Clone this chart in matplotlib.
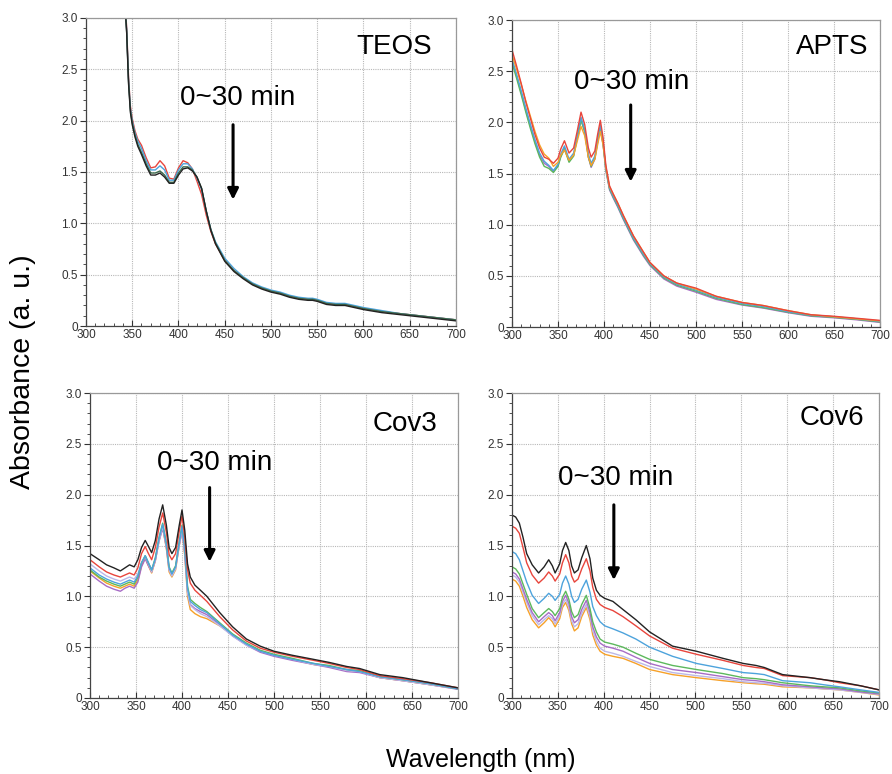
import numpy as np
import matplotlib
matplotlib.use("Agg")
import matplotlib.pyplot as plt
from matplotlib.ticker import MultipleLocator, FuncFormatter

plt.rcParams['font.family'] = ['Liberation Sans', 'DejaVu Sans']

# ---------------- data ----------------
# TEOS
teos_wl = [341, 344, 346, 348, 350, 353, 356, 360, 365, 370, 375, 380, 385, 390, 395,
           400, 405, 410, 415, 420, 425, 430, 435, 440, 450, 460, 470, 480, 490, 500,
           510, 520, 530, 540, 545, 550, 560, 570, 580, 590, 600, 620, 640, 660, 680, 700]
teos_red = [3.35, 2.90, 2.42, 2.14, 2.02, 1.90, 1.82, 1.76, 1.64, 1.54, 1.55, 1.61, 1.56, 1.44, 1.43,
            1.54, 1.61, 1.59, 1.53, 1.41, 1.28, 1.08, 0.92, 0.80, 0.64, 0.54, 0.47, 0.41, 0.37, 0.34,
            0.32, 0.29, 0.27, 0.26, 0.26, 0.25, 0.22, 0.21, 0.21, 0.19, 0.17, 0.14, 0.12, 0.10, 0.08, 0.06]
teos_blue = [3.34, 2.88, 2.40, 2.12, 2.00, 1.88, 1.80, 1.73, 1.61, 1.52, 1.52, 1.56, 1.52, 1.42, 1.42,
             1.52, 1.58, 1.58, 1.53, 1.44, 1.33, 1.12, 0.94, 0.82, 0.66, 0.56, 0.48, 0.42, 0.38, 0.35,
             0.33, 0.30, 0.28, 0.27, 0.27, 0.26, 0.23, 0.22, 0.22, 0.20, 0.18, 0.15, 0.12, 0.10, 0.08, 0.06]
teos_green = [3.32, 2.86, 2.38, 2.10, 1.98, 1.86, 1.77, 1.69, 1.58, 1.49, 1.49, 1.51, 1.47, 1.40, 1.40,
              1.49, 1.55, 1.55, 1.52, 1.45, 1.34, 1.12, 0.94, 0.81, 0.64, 0.54, 0.47, 0.41, 0.37, 0.34,
              0.32, 0.29, 0.27, 0.26, 0.26, 0.25, 0.22, 0.21, 0.21, 0.19, 0.17, 0.14, 0.12, 0.10, 0.08, 0.06]
teos_black = [3.30, 2.85, 2.36, 2.08, 1.96, 1.84, 1.75, 1.67, 1.56, 1.47, 1.47, 1.49, 1.45, 1.39, 1.39,
              1.47, 1.53, 1.54, 1.51, 1.45, 1.34, 1.12, 0.93, 0.80, 0.63, 0.53, 0.46, 0.40, 0.36, 0.33,
              0.31, 0.28, 0.26, 0.25, 0.25, 0.24, 0.21, 0.20, 0.20, 0.18, 0.16, 0.13, 0.11, 0.09, 0.07, 0.05]

# APTS
apts_wl = [300, 305, 310, 315, 320, 325, 330, 335, 340, 345, 350, 353, 357, 362, 367,
           371, 375, 379, 383, 386, 390, 393, 396, 399, 402, 406, 410, 415, 421, 432,
           443, 450, 465, 479, 500, 522, 550, 573, 600, 625, 650, 675, 700]
apts_purple = [2.60, 2.45, 2.29, 2.12, 1.96, 1.81, 1.68, 1.60, 1.57, 1.52, 1.58, 1.67, 1.75, 1.62, 1.68,
               1.86, 2.03, 1.91, 1.66, 1.56, 1.64, 1.80, 1.94, 1.78, 1.53, 1.34, 1.26, 1.17, 1.05, 0.85,
               0.69, 0.60, 0.47, 0.40, 0.34, 0.27, 0.215, 0.185, 0.14, 0.105, 0.09, 0.07, 0.045]
apts_green = [2.58, 2.43, 2.27, 2.10, 1.94, 1.79, 1.66, 1.57, 1.55, 1.51, 1.57, 1.66, 1.74, 1.61, 1.67,
              1.85, 2.02, 1.91, 1.66, 1.57, 1.65, 1.81, 1.95, 1.79, 1.54, 1.35, 1.27, 1.18, 1.06, 0.86,
              0.70, 0.61, 0.48, 0.41, 0.35, 0.28, 0.22, 0.19, 0.145, 0.11, 0.095, 0.075, 0.05]
apts_blue = [2.62, 2.47, 2.31, 2.14, 1.98, 1.83, 1.70, 1.62, 1.58, 1.53, 1.59, 1.69, 1.77, 1.64, 1.70,
             1.87, 2.05, 1.93, 1.69, 1.60, 1.67, 1.83, 1.97, 1.81, 1.55, 1.36, 1.28, 1.19, 1.07, 0.87,
             0.71, 0.62, 0.49, 0.42, 0.36, 0.29, 0.23, 0.20, 0.15, 0.115, 0.10, 0.08, 0.055]
apts_orange = [2.66, 2.52, 2.37, 2.21, 2.06, 1.91, 1.78, 1.69, 1.65, 1.57, 1.61, 1.68, 1.73, 1.63, 1.68,
               1.82, 1.96, 1.87, 1.66, 1.58, 1.64, 1.78, 1.91, 1.78, 1.56, 1.37, 1.30, 1.21, 1.09, 0.89,
               0.73, 0.63, 0.50, 0.43, 0.37, 0.30, 0.24, 0.21, 0.16, 0.12, 0.10, 0.08, 0.06]
apts_red = [2.71, 2.55, 2.38, 2.20, 2.04, 1.88, 1.75, 1.66, 1.64, 1.60, 1.65, 1.74, 1.82, 1.70, 1.75,
            1.92, 2.10, 1.98, 1.75, 1.66, 1.72, 1.88, 2.02, 1.85, 1.58, 1.38, 1.30, 1.21, 1.09, 0.89,
            0.73, 0.63, 0.50, 0.43, 0.38, 0.30, 0.24, 0.21, 0.16, 0.12, 0.105, 0.085, 0.065]

# Cov3
cov3_wl = [300, 310, 318, 326, 333, 338, 343, 348, 352, 356, 360, 363, 367, 371, 375,
           379, 383, 386, 389, 393, 397, 400, 403, 406, 409, 414, 420, 427, 441, 455,
           470, 485, 500, 520, 543, 560, 579, 593, 615, 640, 670, 700]
cov3_orange = [1.25, 1.18, 1.13, 1.10, 1.08, 1.10, 1.12, 1.10, 1.16, 1.30, 1.38, 1.31, 1.23, 1.35, 1.55,
               1.68, 1.47, 1.24, 1.19, 1.26, 1.50, 1.65, 1.40, 1.00, 0.87, 0.83, 0.80, 0.78, 0.71, 0.62,
               0.53, 0.46, 0.42, 0.38, 0.33, 0.31, 0.27, 0.26, 0.20, 0.17, 0.13, 0.09]
cov3_purple = [1.22, 1.15, 1.10, 1.07, 1.05, 1.08, 1.10, 1.08, 1.14, 1.29, 1.37, 1.31, 1.24, 1.35, 1.54,
               1.67, 1.48, 1.26, 1.21, 1.28, 1.50, 1.64, 1.42, 1.04, 0.92, 0.88, 0.85, 0.82, 0.72, 0.61,
               0.52, 0.45, 0.41, 0.37, 0.33, 0.30, 0.26, 0.25, 0.20, 0.17, 0.13, 0.085]
cov3_lavender = [1.32, 1.25, 1.20, 1.17, 1.15, 1.17, 1.19, 1.17, 1.22, 1.33, 1.39, 1.33, 1.24, 1.36, 1.55,
                 1.69, 1.49, 1.26, 1.20, 1.27, 1.51, 1.66, 1.43, 1.04, 0.91, 0.87, 0.83, 0.80, 0.71, 0.61,
                 0.52, 0.46, 0.42, 0.38, 0.33, 0.31, 0.27, 0.26, 0.20, 0.17, 0.13, 0.09]
cov3_green = [1.26, 1.19, 1.15, 1.12, 1.10, 1.12, 1.14, 1.12, 1.19, 1.33, 1.40, 1.34, 1.26, 1.38, 1.58,
              1.72, 1.52, 1.29, 1.23, 1.30, 1.54, 1.70, 1.48, 1.10, 0.97, 0.93, 0.89, 0.85, 0.74, 0.63,
              0.54, 0.47, 0.43, 0.39, 0.34, 0.32, 0.28, 0.27, 0.21, 0.18, 0.14, 0.09]
cov3_blue = [1.28, 1.21, 1.17, 1.14, 1.12, 1.14, 1.16, 1.14, 1.20, 1.33, 1.40, 1.34, 1.26, 1.37, 1.57,
             1.71, 1.51, 1.28, 1.22, 1.29, 1.53, 1.69, 1.46, 1.08, 0.95, 0.91, 0.87, 0.84, 0.73, 0.62,
             0.53, 0.46, 0.42, 0.38, 0.34, 0.31, 0.28, 0.26, 0.21, 0.18, 0.14, 0.09]
cov3_red = [1.36, 1.29, 1.24, 1.21, 1.19, 1.21, 1.23, 1.21, 1.28, 1.42, 1.49, 1.43, 1.36, 1.48, 1.68,
            1.82, 1.63, 1.41, 1.36, 1.42, 1.64, 1.79, 1.58, 1.26, 1.13, 1.06, 1.01, 0.95, 0.80, 0.67,
            0.56, 0.49, 0.45, 0.41, 0.37, 0.34, 0.30, 0.28, 0.22, 0.19, 0.15, 0.10]
cov3_black = [1.42, 1.36, 1.31, 1.28, 1.25, 1.28, 1.31, 1.29, 1.36, 1.48, 1.55, 1.50, 1.43, 1.55, 1.76,
              1.90, 1.70, 1.48, 1.42, 1.48, 1.70, 1.85, 1.65, 1.32, 1.19, 1.11, 1.06, 1.00, 0.84, 0.70,
              0.58, 0.51, 0.46, 0.42, 0.38, 0.35, 0.31, 0.29, 0.23, 0.20, 0.15, 0.10]

# Cov6
cov6_wl = [300, 304, 308, 312, 316, 322, 329, 335, 340, 344, 347, 352, 355, 358.5, 362,
           365, 368, 372, 376, 381, 385, 388, 392, 396, 401, 410, 421, 435, 450, 475,
           501, 530, 552, 566, 575, 595, 625, 640, 657, 680, 700]
cov6_orange = [1.17, 1.15, 1.10, 1.00, 0.89, 0.77, 0.69, 0.74, 0.79, 0.75, 0.70, 0.78, 0.89, 0.94, 0.86,
               0.73, 0.66, 0.69, 0.80, 0.89, 0.77, 0.62, 0.52, 0.46, 0.43, 0.41, 0.39, 0.34, 0.28, 0.23,
               0.20, 0.17, 0.15, 0.14, 0.135, 0.11, 0.10, 0.09, 0.08, 0.055, 0.03]
cov6_lavender = [1.21, 1.19, 1.14, 1.04, 0.94, 0.81, 0.72, 0.77, 0.81, 0.78, 0.73, 0.81, 0.92, 0.97, 0.89,
                 0.76, 0.70, 0.73, 0.83, 0.92, 0.80, 0.66, 0.56, 0.49, 0.46, 0.44, 0.41, 0.36, 0.31, 0.25,
                 0.22, 0.19, 0.16, 0.15, 0.145, 0.12, 0.10, 0.09, 0.08, 0.055, 0.035]
cov6_purple = [1.24, 1.22, 1.17, 1.07, 0.97, 0.84, 0.75, 0.80, 0.84, 0.81, 0.76, 0.84, 0.95, 1.01, 0.93,
               0.80, 0.74, 0.77, 0.87, 0.96, 0.84, 0.70, 0.60, 0.54, 0.51, 0.49, 0.46, 0.40, 0.34, 0.28,
               0.25, 0.21, 0.18, 0.17, 0.16, 0.13, 0.11, 0.10, 0.09, 0.06, 0.04]
cov6_green = [1.29, 1.27, 1.22, 1.12, 1.02, 0.88, 0.79, 0.84, 0.88, 0.85, 0.81, 0.88, 0.99, 1.05, 0.97,
              0.85, 0.79, 0.82, 0.92, 1.01, 0.88, 0.75, 0.65, 0.58, 0.55, 0.53, 0.50, 0.44, 0.38, 0.32,
              0.28, 0.24, 0.20, 0.19, 0.18, 0.15, 0.12, 0.11, 0.10, 0.07, 0.05]
cov6_blue = [1.44, 1.42, 1.36, 1.25, 1.14, 1.01, 0.93, 0.98, 1.03, 1.00, 0.96, 1.02, 1.13, 1.20, 1.12,
             1.00, 0.94, 0.97, 1.07, 1.16, 1.04, 0.90, 0.81, 0.75, 0.71, 0.68, 0.64, 0.58, 0.50, 0.41,
             0.34, 0.29, 0.25, 0.24, 0.23, 0.17, 0.15, 0.13, 0.11, 0.08, 0.055]
cov6_red = [1.69, 1.67, 1.62, 1.48, 1.33, 1.21, 1.13, 1.18, 1.24, 1.20, 1.15, 1.22, 1.33, 1.41, 1.33,
            1.20, 1.14, 1.17, 1.27, 1.37, 1.25, 1.09, 0.97, 0.92, 0.89, 0.86, 0.80, 0.71, 0.61, 0.49,
            0.43, 0.37, 0.32, 0.30, 0.29, 0.22, 0.20, 0.18, 0.15, 0.12, 0.08]
cov6_black = [1.80, 1.78, 1.72, 1.58, 1.42, 1.31, 1.23, 1.29, 1.36, 1.30, 1.23, 1.32, 1.45, 1.53, 1.45,
              1.30, 1.23, 1.26, 1.38, 1.50, 1.37, 1.18, 1.06, 1.01, 0.98, 0.95, 0.87, 0.77, 0.65, 0.51,
              0.46, 0.39, 0.34, 0.32, 0.30, 0.23, 0.20, 0.18, 0.16, 0.12, 0.08]

panel_names = ["TEOS", "APTS", "Cov3", "Cov6"]

# colours
BLACK = '#222222'
RED = '#e8453c'
BLUE = '#4da3dc'
GREEN = '#5cb85c'
DKGREEN = '#3d6b4c'
PURPLE = '#a76cc6'
LAVENDER = '#bcb8e8'
ORANGE = '#f6a129'


def style_axis(ax):
    ax.set_xlim(300, 700)
    ax.set_ylim(0, 3.0)
    ax.xaxis.set_major_locator(MultipleLocator(50))
    ax.xaxis.set_minor_locator(MultipleLocator(10))
    ax.yaxis.set_major_locator(MultipleLocator(0.5))
    ax.yaxis.set_minor_locator(MultipleLocator(0.1))
    ax.yaxis.set_major_formatter(FuncFormatter(lambda v, p: "0" if v == 0 else "%.1f" % v))
    ax.grid(True, which='major', color='#b8b8b8', linestyle=(0, (1, 1)), linewidth=0.8)
    ax.tick_params(axis='x', which='both', direction='in', colors='#333333', labelsize=8.5, pad=2)
    ax.tick_params(axis='x', which='major', length=4)
    ax.tick_params(axis='x', which='minor', length=2.5)
    ax.tick_params(axis='y', which='both', direction='out', colors='#333333', labelsize=8.5, pad=2)
    ax.tick_params(axis='y', which='major', length=4)
    ax.tick_params(axis='y', which='minor', length=2.5)
    ax.spines['left'].set_color('#444444')
    ax.spines['bottom'].set_color('#444444')
    ax.spines['top'].set_color('#999999')
    ax.spines['right'].set_color('#999999')
    for s in ax.spines.values():
        s.set_linewidth(0.9)


def annotate(ax, name, name_x, name_y, txt_x, txt_y, arr_x, arr_top, arr_tip):
    ax.text(name_x, name_y, name, fontsize=20, ha='right', va='center')
    ax.text(txt_x, txt_y, "0~30 min", fontsize=20, ha='left', va='center')
    ax.annotate('', xy=(arr_x, arr_tip), xytext=(arr_x, arr_top),
                arrowprops=dict(arrowstyle='-|>', color='black', lw=2.2,
                                mutation_scale=16, shrinkA=0, shrinkB=0))


fig = plt.figure(figsize=(8.92, 7.74), dpi=100)
ax1 = fig.add_axes([0.0964, 0.5788, 0.4148, 0.398])
ax2 = fig.add_axes([0.574, 0.5775, 0.4126, 0.3966])
ax3 = fig.add_axes([0.1009, 0.0982, 0.4126, 0.394])
ax4 = fig.add_axes([0.574, 0.0982, 0.4114, 0.394])

lw = 1.0

# TEOS
for vals, c in [(teos_red, RED), (teos_blue, BLUE), (teos_green, DKGREEN), (teos_black, BLACK)]:
    ax1.plot(teos_wl, vals, color=c, lw=lw)
# APTS
for vals, c in [(apts_purple, PURPLE), (apts_green, GREEN), (apts_blue, BLUE),
                (apts_orange, ORANGE), (apts_red, RED)]:
    ax2.plot(apts_wl, vals, color=c, lw=lw)
# Cov3
for vals, c in [(cov3_orange, ORANGE), (cov3_purple, PURPLE), (cov3_lavender, LAVENDER),
                (cov3_green, GREEN), (cov3_blue, BLUE), (cov3_red, RED), (cov3_black, BLACK)]:
    ax3.plot(cov3_wl, vals, color=c, lw=lw)
# Cov6
for vals, c in [(cov6_orange, ORANGE), (cov6_lavender, LAVENDER), (cov6_purple, PURPLE),
                (cov6_green, GREEN), (cov6_blue, BLUE), (cov6_red, RED), (cov6_black, BLACK)]:
    ax4.plot(cov6_wl, vals, color=c, lw=lw)

for ax in [ax1, ax2, ax3, ax4]:
    style_axis(ax)

annotate(ax1, panel_names[0], 674, 2.72, 402, 2.22, 459, 1.96, 1.23)
annotate(ax2, panel_names[1], 687, 2.74, 367, 2.39, 429, 2.17, 1.42)
annotate(ax3, panel_names[2], 677, 2.70, 373, 2.31, 430, 2.07, 1.34)
annotate(ax4, panel_names[3], 684, 2.75, 350, 2.16, 411, 1.90, 1.16)

fig.text(0.026, 0.52, "Absorbance (a. u.)", rotation=90, fontsize=20.5,
         ha='center', va='center')
fig.text(0.539, 0.018, "Wavelength (nm)", fontsize=18, ha='center', va='center')

fig.savefig("out.png", dpi=100)
